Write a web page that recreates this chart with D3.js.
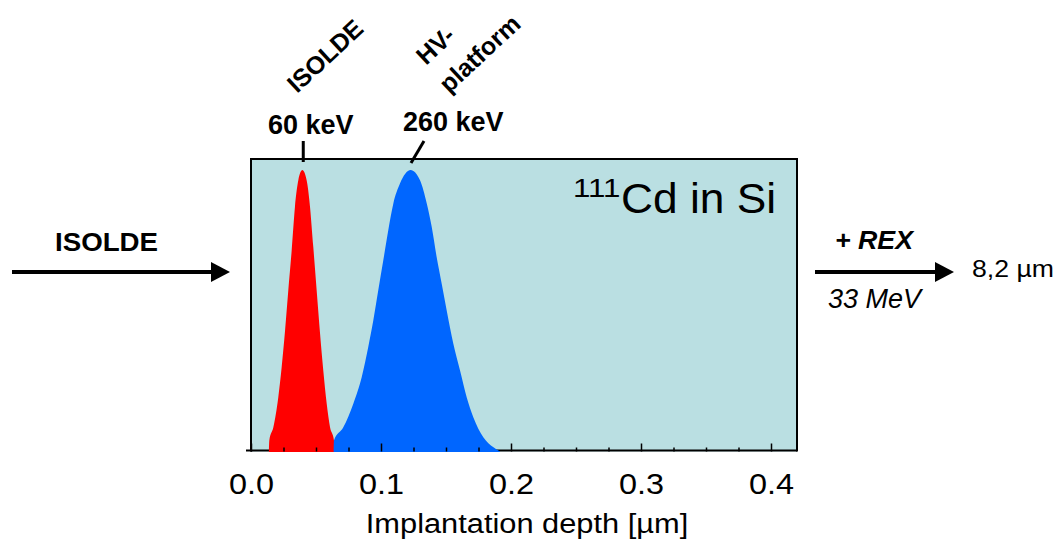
<!DOCTYPE html>
<html><head><meta charset="utf-8">
<script src="https://cdn.jsdelivr.net/npm/d3@7"></script>
<style>body{margin:0;background:#fff} svg{display:block} text{font-family:"Liberation Sans",Arial,sans-serif;fill:#000}</style>
</head><body><svg id="c" width="1058" height="543"></svg>
<script>
// 60 keV (ISOLDE) implantation profile
const depth60 = [0.0138,0.0141,0.0172,0.0210,0.0236,0.0262,0.0287,0.0313,0.0338,0.0364,0.0395,0.0428,0.0454,0.0479,0.0505,0.0531,0.0556,0.0582,0.0608,0.0638,0.0641];
const yield60 = [0,0.04,0.086,0.193,0.30,0.43,0.573,0.715,0.869,0.964,1.0,0.964,0.869,0.727,0.573,0.42,0.288,0.171,0.086,0.04,0];
// 260 keV (HV-platform) implantation profile
const depth260 = [0.0636,0.0638,0.0710,0.0787,0.0852,0.0902,0.0941,0.0979,0.1018,0.1056,0.1095,0.1146,0.1228,0.1300,0.1352,0.1390,0.1428,0.1467,0.1505,0.1556,0.1608,0.1659,0.1710,0.1787,0.1865,0.1915];
const yield260 = [0,0.039,0.086,0.17,0.265,0.371,0.466,0.573,0.68,0.786,0.881,0.952,1.0,0.964,0.881,0.798,0.691,0.596,0.502,0.384,0.288,0.193,0.122,0.051,0.015,0];
const majorTicks = [0,0.1,0.2,0.3,0.4];
const tickLabels = ["0.0","0.1","0.2","0.3","0.4"];
const minorTicks = d3.range(0.025,0.42,0.025).filter(v => Math.abs(v*10 - Math.round(v*10)) > 1e-6);

const svg = d3.select("#c");
const x = d3.scaleLinear().domain([0,0.42]).range([251,797]);
const y = d3.scaleLinear().domain([0,1]).range([451.5,170]);
const yTop = y(1.039);

function txt(px,py,str,size,sx,opts={}){
  const t = svg.append("text").attr("transform",`translate(${px},${py}) scale(${sx},1)`).attr("font-size",size);
  if(opts.bold) t.attr("font-weight","bold");
  if(opts.italic) t.attr("font-style","italic");
  if(opts.anchor) t.attr("text-anchor",opts.anchor);
  return t.text(str);
}

// plot background
svg.append("rect").attr("x",x(0)).attr("y",yTop).attr("width",x(0.42)-x(0)).attr("height",y(0)-yTop)
  .attr("fill","#badfe2");
svg.append("path").attr("d",`M${x(0)},${y(0)}V${yTop}H${x(0.42)}V${y(0)}`).attr("fill","none").attr("stroke","#000").attr("stroke-width",2);
svg.append("line").attr("x1",x(0)).attr("x2",x(0.42)).attr("y1",y(0)-1).attr("y2",y(0)-1).attr("stroke","#000").attr("stroke-width",2);
svg.append("line").attr("x1",x(0)-5).attr("x2",x(0)).attr("y1",y(0)-1).attr("y2",y(0)-1).attr("stroke","#000").attr("stroke-width",2);

const area = d3.area().x(d=>x(d[0])).y0(y(0)+0.5).y1(d=>y(d[1])).curve(d3.curveMonotoneX);
svg.append("path").datum(d3.zip(depth60,yield60)).attr("d",area).attr("fill","#ff0000");
svg.append("path").datum(d3.zip(depth260,yield260)).attr("d",area).attr("fill","#0066ff");

// ticks pointing inward
const axis = d3.axisTop(x).tickValues(majorTicks).tickFormat(()=>"").tickSize(8).tickSizeOuter(0);
const ag = svg.append("g").attr("transform",`translate(0,${y(0)})`).call(axis);
ag.select(".domain").remove();
ag.selectAll(".tick line").attr("stroke","#000").attr("stroke-width",1.5);
const axisMinor = d3.axisTop(x).tickValues(minorTicks).tickFormat(()=>"").tickSize(4).tickSizeOuter(0);
const am = svg.append("g").attr("transform",`translate(0,${y(0)})`).call(axisMinor);
am.select(".domain").remove();
am.selectAll(".tick line").attr("stroke","#000").attr("stroke-width",1.5);

// tick labels
const lab = d3.axisBottom(x).tickValues(majorTicks).tickFormat((d,i)=>tickLabels[i]).tickSize(0).tickPadding(0);
const lg = svg.append("g").attr("transform",`translate(0,${y(0)})`).call(lab);
lg.select(".domain").remove();
lg.selectAll("text").attr("font-family","Liberation Sans, Arial, sans-serif").attr("font-size",30)
  .attr("dy",null).attr("y",null).attr("fill","#000").attr("transform","translate(0,42) scale(1.08,1)");

txt(527,533,"Implantation depth [µm]",28,1.1,{anchor:"middle"});

// in-plot label
txt(573,197,"111",25,1.25);
txt(621,213,"Cd in Si",43,1.03);

// peak labels
txt(268,134,"60 keV",27,1,{bold:true});
txt(403,131,"260 keV",27,1,{bold:true});
svg.append("line").attr("x1",x(0.0402)).attr("x2",x(0.0402)).attr("y1",141).attr("y2",162).attr("stroke","#000").attr("stroke-width",3);
svg.append("line").attr("x1",424).attr("y1",141).attr("x2",411).attr("y2",163).attr("stroke","#000").attr("stroke-width",3);

svg.append("text").attr("transform","translate(297,94) rotate(-43)").attr("font-size",25).attr("font-weight","bold").text("ISOLDE");
svg.append("text").attr("transform","translate(426,66) rotate(-43)").attr("font-size",25).attr("font-weight","bold").text("HV-");
svg.append("text").attr("transform","translate(449,94) rotate(-43)").attr("font-size",25).attr("font-weight","bold").text("platform");

// beam arrows
function arrow(x1,x2,yy){
  svg.append("line").attr("x1",x1).attr("x2",x2-16).attr("y1",yy).attr("y2",yy).attr("stroke","#000").attr("stroke-width",4);
  svg.append("path").attr("d",`M${x2-19},${yy-10}L${x2},${yy}L${x2-19},${yy+10}Z`).attr("fill","#000");
}
arrow(12,230,272);
arrow(815,954,272);
txt(55,251,"ISOLDE",26,1.065,{bold:true});
txt(835,249,"+ REX",25,1.07,{bold:true,italic:true});
txt(828,308,"33 MeV",27,1,{italic:true});
txt(972,277,"8,2 µm",24,1.11);
</script></body></html>
